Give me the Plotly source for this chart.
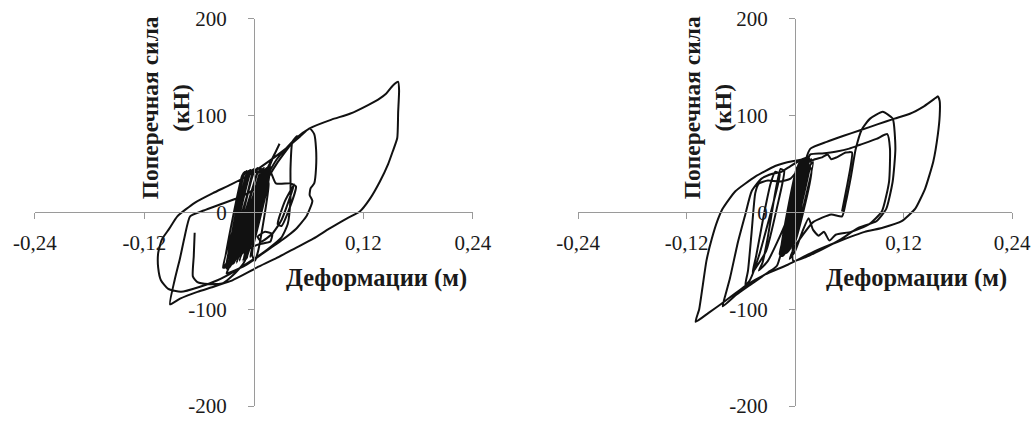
import plotly.graph_objects as go

# ---------------- data (deformation m, shear force kN) ----------------
x_tick_vals = [-0.24, -0.12, 0.12, 0.24]
x_tick_text = ["-0,24", "-0,12", "0,12", "0,24"]
y_tick_vals = [-200, -100, 0, 100, 200]
y_tick_text = ["-200", "-100", "0", "100", "200"]

y_title = "Поперечная сила<br>(кН)"
x_title = "Деформации (м)"

# Left chart
left_seg1 = [(0.000, 0), (0.005, 15), (0.002, 10), (-0.006, -15), (-0.003, -8), (0.007, 25), (0.004, 20),
             (-0.012, -30), (-0.008, -20), (0.010, 35), (0.006, 30), (-0.018, -42), (-0.013, -32), (0.012, 42),
             (0.008, 38), (-0.024, -50), (-0.018, -40), (0.014, 45), (0.009, 42), (-0.028, -55), (-0.034, -57)]
left_cluster = [(-0.004, 44), (-0.008, 40), (-0.031, -56), (0.000, 45), (-0.004, 41), (-0.028, -55),
                (0.004, 46), (0.000, 42), (-0.025, -54), (0.008, 45), (0.004, 41), (-0.022, -53),
                (0.011, 46), (0.007, 42), (-0.019, -52), (0.014, 45), (0.010, 41), (-0.016, -50),
                (0.016, 44), (0.012, 40), (-0.012, -50), (0.018, 45), (0.014, 41), (-0.008, -48),
                (0.018, 42), (0.015, 38), (-0.004, -46), (0.017, 38), (0.013, 34), (-0.002, -44),
                (0.001, -50), (0.005, -38), (0.016, 30), (0.012, 40), (-0.010, 42), (-0.013, 38),
                (-0.033, -56), (-0.030, -52), (-0.008, 43), (-0.011, 39), (-0.030, -56), (-0.026, -50),
                (-0.002, 44), (-0.006, 40), (-0.027, -57), (-0.024, -52)]
left_seg2 = [(-0.006, -8), (0.012, 36), (0.021, 57), (0.028, 71), (0.025, 65), (0.013, 42), (-0.004, 0),
             (-0.020, -40), (-0.030, -58), (-0.024, -52), (-0.008, -16), (0.010, 26), (0.026, 52), (0.040, 70),
             (0.047, 79), (0.042, 73), (0.040, 45), (0.040, 15), (0.037, -12), (0.030, -26), (0.015, -38),
             (0.000, -48), (-0.020, -60), (-0.040, -70), (-0.060, -77), (-0.080, -82)]
left_seg3 = [(-0.094, -79), (-0.102, -70), (-0.105, -57), (-0.105, -42), (-0.101, -28), (-0.093, -17),
             (-0.084, -4), (-0.065, 10), (-0.045, 20), (-0.025, 29), (-0.005, 39), (0.015, 52), (0.035, 66),
             (0.050, 78), (0.061, 87), (0.066, 81), (0.068, 66), (0.068, 46), (0.066, 30), (0.062, 25),
             (0.061, 18), (0.064, 12), (0.058, -3), (0.046, -17), (0.030, -29), (0.010, -42), (-0.010, -55),
             (-0.030, -63), (-0.027, -56)]
left_seg4 = [(-0.012, -18), (0.008, 32), (0.016, 46), (0.012, 44), (-0.014, -28), (-0.031, -57), (-0.025, -52),
             (0.000, 8), (0.018, 47), (0.013, 45), (-0.011, -28), (-0.027, -56), (-0.021, -50), (0.004, 12),
             (0.017, 44), (0.024, 30), (0.040, 30), (0.046, 27), (0.038, 2), (0.030, -14), (0.026, -12),
             (0.034, 12), (0.044, 29), (0.041, 20), (0.030, -8), (0.020, -22), (0.008, -30), (0.004, -25),
             (0.012, -20), (0.020, -22), (0.018, -30), (0.005, -33), (-0.010, -40), (-0.025, -52)]
left_seg5 = [(-0.015, -20), (0.005, 22), (0.025, 55), (0.045, 76), (0.061, 87), (0.085, 96), (0.105, 102),
             (0.125, 111), (0.138, 118), (0.145, 123), (0.152, 131), (0.158, 135), (0.159, 126), (0.158, 104),
             (0.157, 77), (0.152, 63), (0.147, 50), (0.138, 32), (0.127, 14), (0.116, 1), (0.102, -6),
             (0.082, -17), (0.065, -27), (0.045, -37), (0.025, -47), (0.003, -57), (-0.026, -71), (-0.045, -77),
             (-0.062, -82), (-0.081, -89), (-0.092, -95)]
left_seg6 = [(-0.087, -70), (-0.081, -47), (-0.076, -25), (-0.070, -4), (-0.055, 2), (-0.035, 9), (-0.015, 16),
             (0.000, 24), (0.010, 36), (0.016, 46), (0.010, 40), (-0.012, -20), (-0.024, -50), (-0.018, -45),
             (0.004, 20), (0.014, 42), (0.008, 36), (-0.010, -15), (-0.020, -45), (-0.012, -40), (0.008, 15),
             (0.014, 35), (0.008, 30), (-0.004, -20), (-0.010, -50), (-0.020, -62), (-0.034, -73), (-0.050, -74),
             (-0.062, -72), (-0.067, -66), (-0.066, -45), (-0.065, -21)]

# Right chart
right_seg1 = [(0.000, 0), (0.004, 15), (0.001, 8), (-0.004, -12), (-0.001, -5), (0.006, 25), (0.003, 20),
              (-0.008, -25), (-0.005, -18), (0.009, 38), (0.005, 32), (-0.011, -35), (-0.007, -28), (0.011, 46),
              (0.007, 42), (-0.013, -42), (-0.009, -36), (0.013, 52), (0.009, 48), (-0.015, -45), (-0.017, -43)]
right_cluster = [(0.010, 55), (0.006, 50), (-0.014, -42), (0.012, 56), (0.008, 52), (-0.011, -41),
                 (0.014, 57), (0.010, 53), (-0.008, -40), (0.016, 56), (0.012, 52), (-0.005, -38),
                 (0.018, 55), (0.014, 51), (-0.002, -36), (0.020, 52), (0.016, 48), (0.000, -32),
                 (0.018, 45), (0.006, 50), (0.002, 46), (-0.016, -42), (-0.012, -38), (0.008, 54),
                 (0.004, 50), (-0.013, -43), (-0.009, -39), (0.012, 55), (0.008, 51), (-0.010, -42),
                 (-0.006, -38), (0.015, 54), (0.011, 50), (-0.007, -40)]
right_seg2 = [(0.005, 20), (0.014, 56), (0.010, 54), (-0.010, -10), (-0.030, -50), (-0.040, -60), (-0.036, -52),
              (-0.030, -25), (-0.022, 20), (-0.016, 45), (-0.012, 43), (-0.020, 5), (-0.032, -40), (-0.044, -58),
              (-0.047, -62), (-0.043, -45), (-0.034, 0), (-0.027, 30), (-0.022, 42), (-0.017, 40), (-0.024, 10),
              (-0.040, -45), (-0.050, -70), (-0.055, -75), (-0.052, -60), (-0.048, -20), (-0.044, 20),
              (-0.040, 30), (-0.030, 33), (-0.017, 32), (-0.005, 35), (0.008, 50), (0.013, 55), (0.010, 52),
              (-0.008, -15), (-0.020, -55), (-0.030, -62)]
right_seg3 = [(-0.050, -75), (-0.065, -85), (-0.080, -97), (-0.076, -82), (-0.072, -68), (-0.063, -30),
              (-0.055, -2), (-0.048, 22), (-0.037, 35), (-0.025, 40), (-0.015, 42), (-0.005, 48), (0.008, 55),
              (0.014, 57), (0.011, 55), (-0.006, -15), (-0.014, -45), (-0.011, -42)]
right_seg4 = [(0.002, 10), (0.012, 50), (0.017, 60), (0.030, 61), (0.046, 63), (0.060, 66), (0.072, 70),
              (0.090, 76), (0.102, 81), (0.105, 66), (0.104, 32), (0.096, 1), (0.082, -12), (0.062, -20),
              (0.045, -23), (0.038, -29), (0.032, -20), (0.026, -24), (0.020, -18), (0.015, -6), (0.008, -20),
              (0.000, -40), (-0.006, -48), (0.000, -35), (0.020, -10), (0.040, -2), (0.052, -4), (0.056, 10),
              (0.062, 38), (0.067, 65), (0.074, 86), (0.083, 97), (0.097, 104), (0.108, 97), (0.111, 66),
              (0.108, 32), (0.101, 4), (0.090, -9), (0.070, -16), (0.050, -28), (0.030, -38), (0.012, -46),
              (-0.002, -50)]
right_seg5 = [(0.004, 20), (0.012, 55), (0.017, 66), (0.035, 73), (0.053, 79), (0.072, 85), (0.091, 91),
              (0.110, 97), (0.127, 102), (0.143, 110), (0.155, 118), (0.158, 120), (0.160, 115), (0.160, 100),
              (0.158, 81), (0.153, 53), (0.144, 25), (0.133, 4), (0.118, -9), (0.096, -16), (0.077, -20),
              (0.048, -30), (0.022, -40), (-0.008, -54), (-0.033, -64), (-0.052, -74), (-0.081, -94),
              (-0.096, -104), (-0.110, -113), (-0.106, -100), (-0.102, -75), (-0.098, -50), (-0.092, -27),
              (-0.086, -9), (-0.080, 4), (-0.066, 22), (-0.044, 37), (-0.022, 48), (-0.003, 53), (0.014, 55)]
right_seg6 = [(0.008, 50), (-0.010, -30), (-0.014, -43), (-0.010, -38), (0.008, 35), (0.013, 52), (0.009, 48),
              (-0.008, -25), (-0.013, -40), (-0.008, -35), (0.006, 30), (0.012, 50), (0.022, 55), (0.030, 57),
              (0.036, 60), (0.040, 55), (0.046, 57), (0.056, 62), (0.063, 62), (0.061, 45), (0.057, 25),
              (0.052, 1)]

left_path = left_seg1 + left_cluster + left_seg2 + left_seg3 + left_seg4 + left_seg5 + left_seg6
right_path = right_seg1 + right_cluster + right_seg2 + right_seg3 + right_seg4 + right_seg5 + right_seg6

# ---------------- figure ----------------
W, H = 1035, 421
FONT = "Liberation Serif, Times New Roman, serif"
AXIS_GRAY = "#9a9a9a"
TEXT = "#1a1a1a"

fig = go.Figure()
line_style = dict(color="#111111", width=2, shape="spline", smoothing=0.5)
fig.add_trace(go.Scatter(x=[p[0] for p in left_path], y=[p[1] for p in left_path],
                         mode="lines", line=line_style, xaxis="x", yaxis="y", hoverinfo="skip"))
fig.add_trace(go.Scatter(x=[p[0] for p in right_path], y=[p[1] for p in right_path],
                         mode="lines", line=line_style, xaxis="x2", yaxis="y2", hoverinfo="skip"))

y_dom = [0.0356, 0.955]
x_doms = [[0.0338, 0.457], [0.5585, 0.9778]]
y_mid = (y_dom[0] + y_dom[1]) / 2


def xaxis_cfg(dom):
    return dict(domain=dom, range=[-0.24, 0.24], anchor="free", position=y_mid, automargin=False,
                showline=True, linecolor=AXIS_GRAY, linewidth=1, ticks="outside", ticklen=6,
                tickcolor=AXIS_GRAY, tickwidth=1, tickvals=x_tick_vals, ticktext=x_tick_text,
                showgrid=False, zeroline=False, ticklabelstandoff=5,
                tickfont=dict(family=FONT, size=21, color=TEXT), fixedrange=True)


def yaxis_cfg(dom_x):
    return dict(domain=y_dom, range=[-200, 200], anchor="free", position=(dom_x[0] + dom_x[1]) / 2,
                automargin=False,
                showline=True, linecolor=AXIS_GRAY, linewidth=1, ticks="outside", ticklen=6,
                tickcolor=AXIS_GRAY, tickwidth=1, tickvals=y_tick_vals, ticktext=y_tick_text,
                showgrid=False, zeroline=False, ticklabelstandoff=17,
                tickfont=dict(family=FONT, size=21, color=TEXT), fixedrange=True)


annotations = []
for dom in x_doms:
    w = dom[1] - dom[0]
    annotations.append(dict(text="<b>" + y_title.replace("<br>", "</b><br><b>") + "</b>",
                            x=dom[0] + w * 0.30, y=0.7435, xref="paper", yref="paper",
                            textangle=-90, showarrow=False, xanchor="center", yanchor="middle",
                            font=dict(family=FONT, size=23.5, color=TEXT)))
    annotations.append(dict(text="<b>" + x_title + "</b>", x=dom[0] + w * 0.78, y=0.3397,
                            xref="paper", yref="paper", showarrow=False, xanchor="center",
                            yanchor="middle", font=dict(family=FONT, size=24.5, color=TEXT)))

fig.update_layout(
    width=W, height=H, margin=dict(l=0, r=0, t=0, b=0, autoexpand=False),
    paper_bgcolor="white", plot_bgcolor="white", showlegend=False,
    xaxis=xaxis_cfg(x_doms[0]), yaxis=yaxis_cfg(x_doms[0]),
    xaxis2=xaxis_cfg(x_doms[1]), yaxis2=yaxis_cfg(x_doms[1]),
    annotations=annotations,
)

fig.write_html("out.html", config={"displayModeBar": False, "staticPlot": True},
               post_script="document.body.style.margin='0px';")
